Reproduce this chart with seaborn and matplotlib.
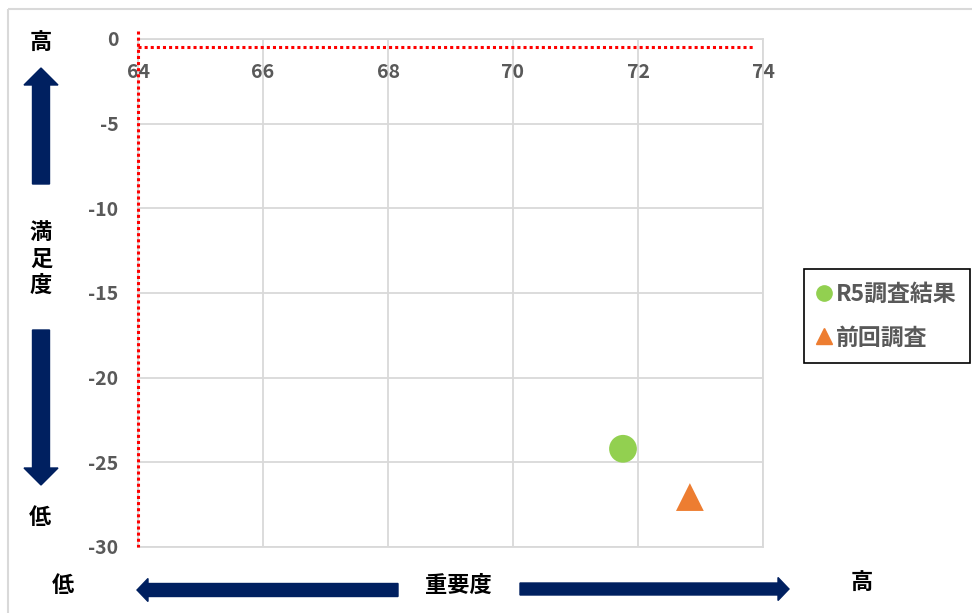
import pandas as pd
import matplotlib.pyplot as plt
import seaborn as sns
from matplotlib.patches import FancyArrow, Rectangle
from matplotlib.transforms import Affine2D
from matplotlib.lines import Line2D

# Data
series = ['R5調査結果', '前回調査']
importance = [71.76, 72.83]
satisfaction = [-24.2, -27.05]
series_colors = ['#92D050', '#ED7D31']
series_markers = ['o', '^']

x_ticks = [64, 66, 68, 70, 72, 74]
y_ticks = [0, -5, -10, -15, -20, -25, -30]

# red dotted reference lines
vline_x = [64, 64]
vline_y = [0.45, -30]
hline_x = [64, 73.84]
hline_y = [-0.5, -0.5]

df = pd.DataFrame({'series': series, 'importance': importance, 'satisfaction': satisfaction})

sns.set_theme(style='white')
plt.rcParams['font.family'] = ['Noto Sans CJK JP', 'DejaVu Sans']
plt.rcParams['axes.unicode_minus'] = False

W, H = 972, 613
fig = plt.figure(figsize=(W / 100, H / 100), dpi=100)
# pixel coordinates, y downwards
px = Affine2D().scale(1 / W, -1 / H).translate(0, 1) + fig.transFigure

ax = fig.add_axes([138 / W, 1 - 547 / H, (763 - 138) / W, (547 - 39) / H])

ax.plot(vline_x, vline_y, color='red', ls=(0, (1, 1)), lw=2.2, clip_on=False, zorder=3)
ax.plot(hline_x, hline_y, color='red', ls=(0, (1, 1)), lw=2.2, clip_on=False, zorder=3)

sns.scatterplot(data=df, x='importance', y='satisfaction', hue='series', style='series',
                palette=dict(zip(series, series_colors)),
                markers=dict(zip(series, series_markers)),
                s=400, linewidth=0, legend=False, ax=ax, zorder=4)

ax.set_xlim(x_ticks[0], x_ticks[-1])
ax.set_ylim(y_ticks[-1], y_ticks[0])
ax.set_xticks(x_ticks)
ax.set_yticks(y_ticks)
ax.set_xlabel('')
ax.set_ylabel('')
ax.grid(True, color='#d9d9d9', lw=1.3)
for s in ax.spines.values():
    s.set_color('#d9d9d9')
    s.set_linewidth(1.3)

ax.tick_params(axis='y', length=0, pad=14, labelsize=14, labelcolor='#595959')
ax.tick_params(axis='x', bottom=False, labelbottom=False, top=False, labeltop=True,
               length=0, pad=-31, labelsize=14, labelcolor='#595959')
for lbl in ax.get_xticklabels() + ax.get_yticklabels():
    lbl.set_fontweight('bold')

# legend
handles = [Line2D([], [], ls='', marker=m, color=c, markersize=11) for m, c in zip(series_markers, series_colors)]
leg = ax.legend(handles, series, loc='upper left', bbox_to_anchor=(804 / W, 1 - 269 / H),
                bbox_transform=fig.transFigure, borderaxespad=0, frameon=True, fancybox=False,
                edgecolor='black', framealpha=1, handlelength=0.55, handletextpad=0.25,
                borderpad=0.6, labelspacing=0.9, prop={'size': 16.5, 'weight': 'bold'},
                labelcolor='#595959')
leg.get_frame().set_linewidth(1.2)

# axis arrows
navy = '#002060'
fig.add_artist(FancyArrow(41, 184, 0, -116, width=17, head_width=34, head_length=17,
                          length_includes_head=True, color=navy, transform=px))
fig.add_artist(FancyArrow(41, 330, 0, 155, width=17, head_width=34, head_length=17,
                          length_includes_head=True, color=navy, transform=px))
fig.add_artist(FancyArrow(398, 590, -261, 0, width=13, head_width=23, head_length=11,
                          length_includes_head=True, color=navy, transform=px))
fig.add_artist(FancyArrow(520, 589, 269, 0, width=12, head_width=23, head_length=11,
                          length_includes_head=True, color=navy, transform=px))

txt = dict(transform=px, ha='center', va='center', fontsize=16, fontweight='bold', color='black')
fig.text(41, 42, '高', **txt)
fig.text(41, 259, '満\n足\n度', linespacing=1.2, **txt)
fig.text(40, 518, '低', **txt)
fig.text(63, 585, '低', **txt)
fig.text(458, 585, '重要度', **txt)
fig.text(862, 582, '高', **txt)

# outer chart frame (top and left edges visible)
fig.add_artist(Rectangle((8, 9), 1000, 650, transform=px, fill=False, edgecolor='#d9d9d9', lw=1.5))

fig.savefig('out.png', dpi=100)
